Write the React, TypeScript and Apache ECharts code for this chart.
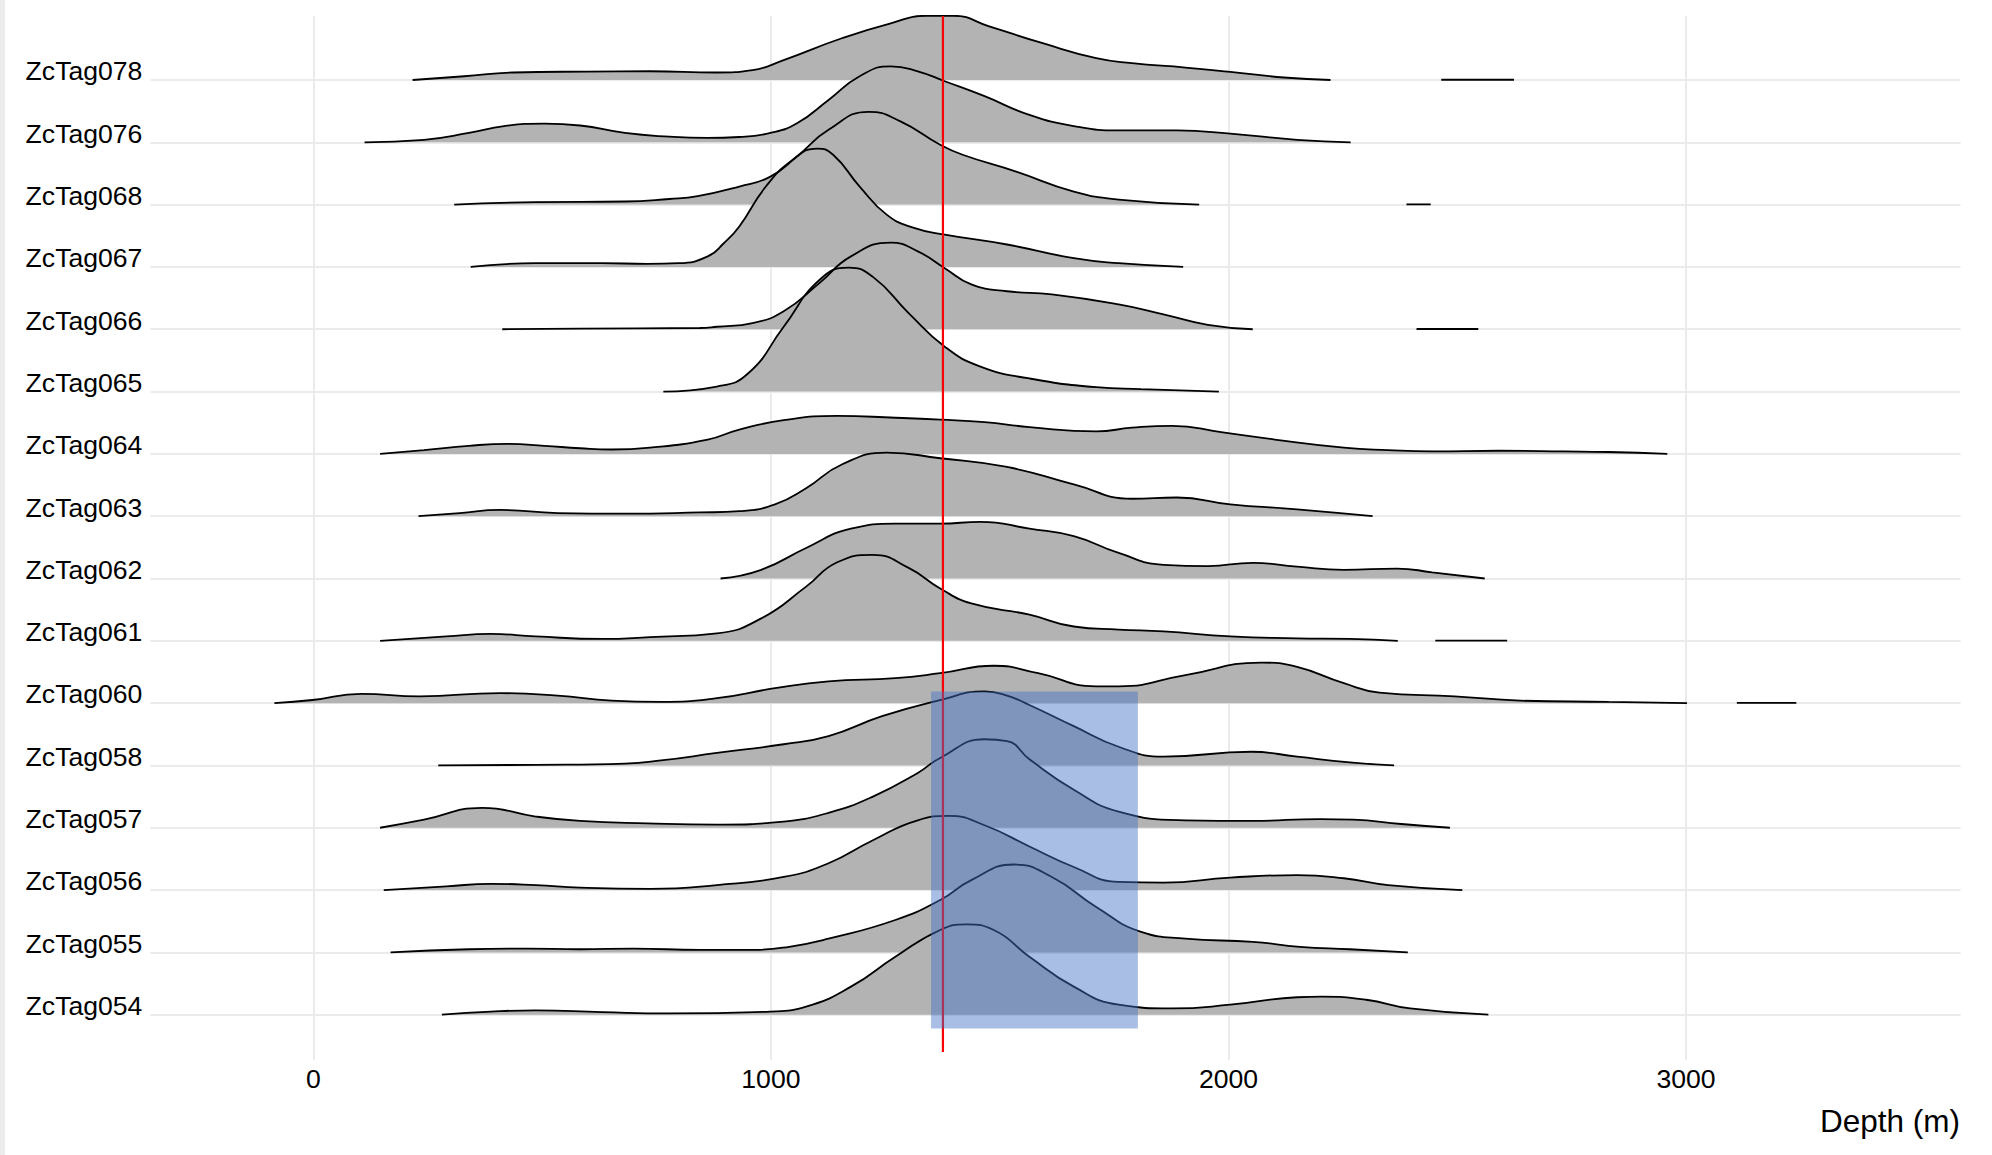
import React, { useEffect, useRef } from "react";
import * as echarts from "echarts";

// Categories (bottom to top)
const tags = [
  "ZcTag054", "ZcTag055", "ZcTag056", "ZcTag057", "ZcTag058", "ZcTag060",
  "ZcTag061", "ZcTag062", "ZcTag063", "ZcTag064", "ZcTag065", "ZcTag066",
  "ZcTag067", "ZcTag068", "ZcTag076", "ZcTag078",
];

// [depth (m), relative ridge height]; null = gap in the ridge line
const zcTag054 = [[281,0],[388,0.05],[486,0.07],[632,0.04],[778,0.02],[999,0.05],[1077,0.13],[1175,0.45],[1272,0.93],[1370,1.36],[1428,1.45],[1487,1.36],[1565,0.93],[1662,0.45],[1760,0.16],[1877,0.1],[2004,0.16],[2150,0.28],[2204,0.29],[2301,0.24],[2397,0.1],[2568,0]];
const zcTag055 = [[169,0],[340,0.05],[466,0.06],[583,0.05],[700,0.06],[845,0.04],[960,0.04],[1040,0.09],[1126,0.22],[1272,0.52],[1370,0.84],[1438,1.16],[1531,1.41],[1614,1.21],[1711,0.73],[1809,0.33],[1906,0.22],[2053,0.17],[2156,0.09],[2265,0.05],[2392,0]];
const zcTag056 = [[154,0],[291,0.06],[388,0.1],[486,0.08],[583,0.04],[736,0.02],[882,0.08],[1028,0.21],[1126,0.43],[1223,0.8],[1321,1.12],[1389,1.19],[1467,1.04],[1565,0.7],[1662,0.37],[1760,0.13],[1858,0.12],[2004,0.2],[2150,0.24],[2252,0.19],[2349,0.08],[2511,0]];
const zcTag057 = [[146,0],[242,0.13],[369,0.32],[486,0.18],[583,0.11],[730,0.07],[882,0.05],[1028,0.1],[1126,0.24],[1223,0.5],[1321,0.88],[1370,1.12],[1467,1.42],[1516,1.39],[1565,1.1],[1662,0.61],[1760,0.26],[1906,0.12],[2053,0.11],[2200,0.14],[2272,0.13],[2378,0.06],[2484,0]];
const zcTag058 = [[273,0],[486,0.01],[681,0.03],[760,0.08],[882,0.2],[1028,0.34],[1126,0.47],[1243,0.79],[1370,1.05],[1467,1.19],[1516,1.12],[1565,0.97],[1662,0.63],[1760,0.3],[1858,0.14],[2050,0.22],[2150,0.14],[2265,0.05],[2362,0]];
const zcTag060 = [[-85,0],[-2,0.05],[105,0.15],[232,0.11],[408,0.16],[534,0.12],[652,0.04],[759,0.02],[882,0.08],[1009,0.24],[1126,0.35],[1272,0.4],[1370,0.48],[1487,0.6],[1584,0.48],[1711,0.27],[1760,0.27],[1906,0.45],[2072,0.65],[2150,0.58],[2252,0.32],[2330,0.17],[2494,0.11],[2638,0.04],[2831,0.02],[3002,0],null,[3111,0.004],[3241,0.004]];
const zcTag061 = [[146,0],[291,0.07],[388,0.11],[486,0.07],[632,0.03],[736,0.06],[882,0.12],[979,0.36],[1077,0.87],[1145,1.26],[1223,1.38],[1301,1.17],[1370,0.84],[1438,0.6],[1565,0.42],[1662,0.23],[1760,0.18],[1858,0.15],[2004,0.07],[2150,0.04],[2265,0.03],[2370,0],null,[2452,0.004],[2609,0.004]];
const zcTag062 = [[890,0],[979,0.14],[1077,0.49],[1175,0.8],[1272,0.88],[1370,0.88],[1458,0.91],[1565,0.8],[1662,0.68],[1760,0.41],[1858,0.22],[1955,0.2],[2053,0.25],[2150,0.19],[2252,0.14],[2368,0.16],[2445,0.1],[2560,0]];
const zcTag063 = [[230,0],[320,0.05],[408,0.1],[534,0.05],[681,0.04],[845,0.06],[931,0.08],[1009,0.19],[1077,0.45],[1155,0.83],[1253,1.02],[1370,0.93],[1516,0.79],[1662,0.51],[1789,0.28],[1887,0.3],[2004,0.19],[2150,0.11],[2315,0]];
const zcTag064 = [[146,0],[242,0.06],[340,0.13],[427,0.16],[505,0.13],[583,0.09],[652,0.07],[736,0.1],[862,0.23],[931,0.39],[1028,0.54],[1145,0.61],[1272,0.58],[1370,0.55],[1467,0.51],[1565,0.43],[1711,0.36],[1789,0.42],[1877,0.45],[1984,0.35],[2101,0.23],[2252,0.1],[2349,0.06],[2445,0.04],[2590,0.05],[2735,0.04],[2831,0.03],[2959,0]];
const zcTag065 = [[765,0],[882,0.08],[950,0.29],[1028,1.04],[1106,1.79],[1170,1.99],[1223,1.84],[1301,1.26],[1380,0.72],[1458,0.4],[1565,0.21],[1711,0.07],[1809,0.04],[1979,0]];
const zcTag066 = [[413,0],[583,0.01],[845,0.02],[882,0.04],[960,0.1],[1028,0.29],[1106,0.74],[1175,1.17],[1262,1.39],[1321,1.25],[1380,0.98],[1438,0.72],[1516,0.61],[1614,0.56],[1760,0.4],[1858,0.24],[1955,0.07],[2053,0],null,[2411,0.004],[2546,0.004]];
const zcTag067 = [[344,0],[486,0.06],[632,0.06],[730,0.05],[798,0.06],[862,0.17],[897,0.38],[931,0.65],[989,1.29],[1048,1.72],[1101,1.9],[1136,1.8],[1194,1.29],[1253,0.84],[1311,0.63],[1380,0.52],[1516,0.36],[1662,0.14],[1760,0.06],[1901,0]];
const zcTag068 = [[308,0],[486,0.04],[681,0.05],[778,0.09],[840,0.135],[931,0.29],[999,0.45],[1058,0.78],[1126,1.2],[1214,1.49],[1282,1.34],[1370,0.96],[1419,0.8],[1536,0.53],[1662,0.21],[1760,0.08],[1936,0],null,[2389,0.004],[2442,0.004]];
const zcTag076 = [[112,0],[242,0.04],[340,0.15],[417,0.26],[505,0.3],[583,0.27],[681,0.15],[778,0.09],[860,0.07],[931,0.085],[999,0.15],[1058,0.31],[1126,0.68],[1194,1.06],[1262,1.22],[1321,1.14],[1380,0.98],[1467,0.74],[1565,0.44],[1662,0.26],[1760,0.19],[1887,0.19],[2004,0.14],[2150,0.04],[2267,0]];
const zcTag078 = [[217,0],[330,0.06],[437,0.12],[600,0.135],[736,0.14],[882,0.12],[960,0.16],[1028,0.32],[1155,0.67],[1262,0.91],[1340,1.03],[1399,1.03],[1477,0.86],[1594,0.59],[1711,0.35],[1789,0.27],[1906,0.2],[2004,0.13],[2121,0.04],[2223,0],null,[2465,0.004],[2624,0.004]];

const ridges = [
  zcTag054, zcTag055, zcTag056, zcTag057, zcTag058, zcTag060, zcTag061, zcTag062,
  zcTag063, zcTag064, zcTag065, zcTag066, zcTag067, zcTag068, zcTag076, zcTag078,
];

const xTicks = [0, 1000, 2000, 3000];
const rowTicks = tags.map((_, i) => i);
const refDepth = 1376;
const refRows = [-0.6, 16.027];
const bandDepth = [1350, 1802];
const bandRows = [-0.22, 5.185];
const xTitle = "Depth (m)";

const FONT = "Liberation Sans, Arial, Helvetica, sans-serif";

function splitSegments(arr: any[]): number[][][] {
  const segs: number[][][] = [];
  let cur: number[][] = [];
  for (const p of arr) {
    if (p === null) {
      if (cur.length) segs.push(cur);
      cur = [];
    } else cur.push(p);
  }
  if (cur.length) segs.push(cur);
  return segs;
}

export default function App() {
  const ref = useRef<HTMLDivElement>(null);
  useEffect(() => {
    const chart = echarts.init(ref.current!, null, { renderer: "svg" });
    const series: any[] = [];
    for (let i = ridges.length - 1; i >= 0; i--) {
      splitSegments(ridges[i]).forEach((seg) => {
        series.push({
          type: "line",
          data: seg.map(([x, h]) => [x, i + h]),
          smooth: 0.5,
          symbol: "none",
          silent: true,
          lineStyle: { color: "#000000", width: 1.8 },
          areaStyle: { color: "#b3b3b3", opacity: 1, origin: i },
          z: 2,
        });
      });
    }
    series.push({
      type: "line",
      data: refRows.map((r) => [refDepth, r]),
      symbol: "none",
      silent: true,
      lineStyle: { color: "#ff0000", width: 2.2 },
      z: 3,
    });
    series.push({
      type: "custom",
      silent: true,
      z: 4,
      data: [[bandDepth[0], bandRows[0], bandDepth[1], bandRows[1]]],
      encode: { x: [0, 2], y: [1, 3] },
      renderItem: (params: any, api: any) => {
        const a = api.coord([api.value(0), api.value(3)]);
        const b = api.coord([api.value(2), api.value(1)]);
        return {
          type: "rect",
          shape: { x: a[0], y: a[1], width: b[0] - a[0], height: b[1] - a[1] },
          style: { fill: "rgba(68,114,196,0.46)" },
        };
      },
    });

    chart.setOption({
      animation: false,
      backgroundColor: "#ffffff",
      textStyle: { fontFamily: FONT },
      graphic: [
        { type: "rect", left: 0, top: 0, shape: { width: 5, height: 1155 }, style: { fill: "#ebebeb" }, silent: true },
        {
          type: "text",
          x: 1960,
          y: 1121,
          silent: true,
          style: {
            text: xTitle,
            fontSize: 31.5,
            fontFamily: FONT,
            fill: "#000000",
            align: "right",
            verticalAlign: "middle",
          },
        },
      ],
      grid: {
        left: 150.4,
        top: 16,
        width: 1810.2,
        height: 1044,
        containLabel: false,
        outerBoundsMode: "none",
      },
      xAxis: {
        type: "value",
        min: -356,
        max: 3600,
        axisLine: { show: false },
        axisTick: { show: false, customValues: xTicks },
        axisLabel: {
          customValues: xTicks,
          formatter: (v: number) => String(v),
          fontSize: 26.6,
          color: "#000000",
          fontFamily: FONT,
          margin: 5,
        },
        splitLine: { show: true, lineStyle: { color: "#ebebeb", width: 2 } },
      },
      yAxis: {
        type: "value",
        min: -0.727,
        max: 16.027,
        axisLine: { show: false },
        axisTick: { show: false, customValues: rowTicks },
        axisLabel: {
          customValues: rowTicks,
          formatter: (v: number) => tags[Math.round(v)] ?? "",
          fontSize: 26.6,
          color: "#000000",
          fontFamily: FONT,
          margin: 8,
          verticalAlign: "bottom",
          lineHeight: 17.4,
        },
        splitLine: { show: true, lineStyle: { color: "#ebebeb", width: 2 } },
      },
      series,
    });
    return () => chart.dispose();
  }, []);
  return (
    <div
      ref={ref}
      style={{ position: "fixed", left: 0, top: 0, width: 1992, height: 1155 }}
    />
  );
}
